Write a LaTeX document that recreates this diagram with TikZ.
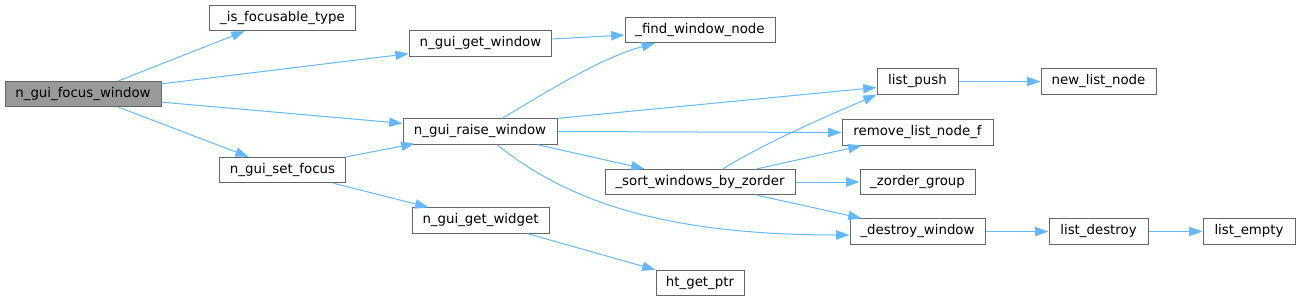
\documentclass[tikz,border=0pt]{standalone}
\usepackage{fontspec}
\setmainfont{DejaVu Sans}
\usetikzlibrary{arrows.meta}
\definecolor{edgeblue}{HTML}{63B8FF}
\definecolor{nodeborder}{HTML}{666666}
\definecolor{rootfill}{HTML}{999999}
\begin{document}
\begin{tikzpicture}[x=0.75pt,y=-0.75pt,
  fn/.style={draw=nodeborder, line width=0.75pt, fill=white, inner sep=0pt,
    minimum height=19pt, font=\fontsize{10pt}{12pt}\selectfont, text=black},
  root/.style={fn, fill=rootfill},
  edge/.style={draw=edgeblue, line width=0.75pt, -{Triangle[length=10pt,width=7pt]}}]
\useasboundingbox (0,0) rectangle (1300,301);
\node[root, minimum width=117pt] (fw) at (83,94) {n\_gui\_focus\_window};
\node[fn, minimum width=110pt] (ift) at (282.5,18) {\_is\_focusable\_type};
\node[fn, minimum width=95pt] (sf) at (282.5,170) {n\_gui\_set\_focus};
\node[fn, minimum width=107pt] (gw) at (480.5,43.5) {n\_gui\_get\_window};
\node[fn, minimum width=112.5pt] (fwn) at (700,30) {\_find\_window\_node};
\node[fn, minimum width=115.5pt] (rw) at (480,131.5) {n\_gui\_raise\_window};
\node[fn, minimum width=142.5pt] (sw) at (700,182) {\_sort\_windows\_by\_zorder};
\node[fn, minimum width=102.75pt] (gwi) at (480.5,220.5) {n\_gui\_get\_widget};
\node[fn, minimum width=66pt] (ht) at (700,283) {ht\_get\_ptr};
\node[fn, minimum width=60.75pt] (lp) at (917.5,81.5) {list\_push};
\node[fn, minimum width=86.25pt] (nln) at (1098.5,81.5) {new\_list\_node};
\node[fn, minimum width=113.25pt] (rln) at (917.5,132.5) {remove\_list\_node\_f};
\node[fn, minimum width=86.25pt] (zg) at (917.5,182) {\_zorder\_group};
\node[fn, minimum width=101.25pt] (dw) at (917.5,231.5) {\_destroy\_window};
\node[fn, minimum width=74.25pt] (ld) at (1098.5,231.5) {list\_destroy};
\node[fn, minimum width=69pt] (le) at (1249,231.5) {list\_empty};

\draw[edge] ([shift={(-43,0)}]fw.north east) -- ([shift={(36,0)}]ift.south west);
\draw[edge] ([shift={(0,3)}]fw.north east) -- ([shift={(0,-3)}]gw.south west);
\draw[edge] ([shift={(0,-5)}]fw.south east) -- ([shift={(0,5)}]rw.north west);
\draw[edge] ([shift={(-43,0)}]fw.south east) -- ([shift={(30,0)}]sf.north west);
\draw[edge] (sf.north east) -- ([shift={(12,-1)}]rw.south west);
\draw[edge] ([shift={(-13,0)}]sf.south east) -- ([shift={(17,0)}]gwi.north west);
\draw[edge] ([shift={(0,-4.5)}]gw.east) -- ([shift={(0,5)}]fwn.west);
\draw[edge] ([shift={(22,0)}]rw.north) .. controls (545,93) and (600,58) .. ([shift={(-45,0)}]fwn.south);
\draw[edge] (rw.north east) -- ([shift={(0,6)}]lp.west);
\draw[edge] (rw.east) -- (rln.west);
\draw[edge] ([shift={(-20,0)}]rw.south east) -- ([shift={(40,0)}]sw.north west);
\draw[edge] ([shift={(17,0)}]rw.south) .. controls (560,195) and (650,235) .. ([shift={(0,3.5)}]dw.west);
\draw[edge] ([shift={(23,0)}]sw.north) .. controls (770,140) and (830,115) .. (lp.south west);
\draw[edge] ([shift={(57,0)}]sw.north) -- ([shift={(20,0)}]rln.south west);
\draw[edge] (sw.east) -- (zg.west);
\draw[edge] ([shift={(57,0)}]sw.south) -- ([shift={(12,0)}]dw.north west);
\draw[edge] (lp.east) -- (nln.west);
\draw[edge] ([shift={(47,0)}]gwi.south) -- (ht.north west);
\draw[edge] (dw.east) -- (ld.west);
\draw[edge] (ld.east) -- (le.west);
\end{tikzpicture}
\end{document}
